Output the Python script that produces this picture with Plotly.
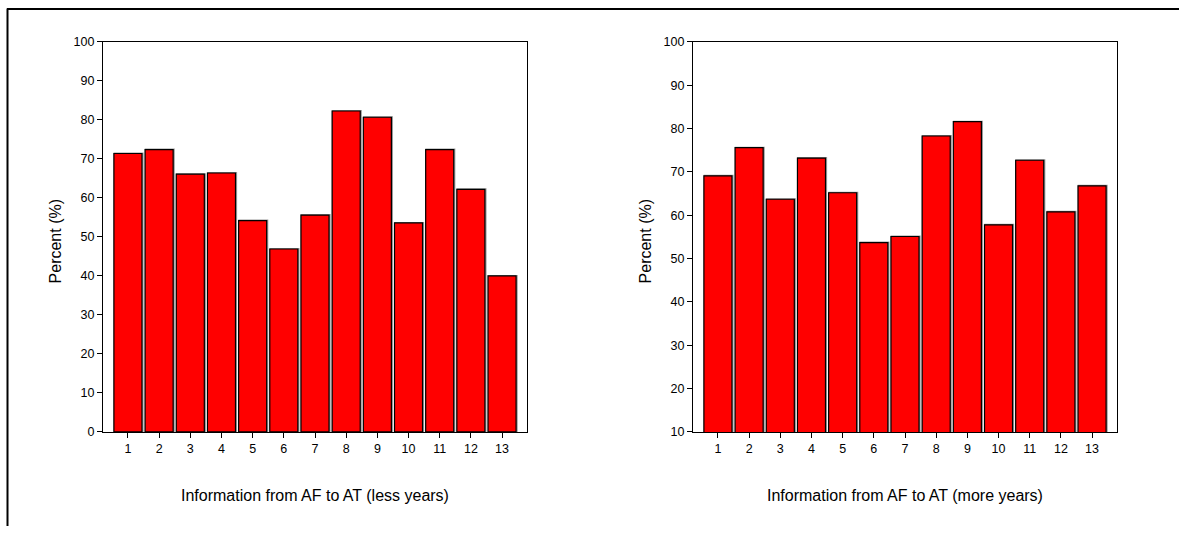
import plotly.graph_objects as go

categories = list(range(1, 14))
less_years = [71.4, 72.4, 66.1, 66.4, 54.2, 46.9, 55.6, 82.3, 80.7, 53.6, 72.4, 62.2, 40.0]
more_years = [69.1, 75.6, 63.7, 73.2, 65.2, 53.7, 55.1, 78.3, 81.6, 57.8, 72.7, 60.8, 66.8]
y_ticks_left = list(range(0, 101, 10))
y_ticks_right = list(range(10, 101, 10))
x_title_left = "Information from AF to AT (less years)"
x_title_right = "Information from AF to AT (more years)"
y_title = "Percent (%)"

W, H = 1179, 533
FONT = "Liberation Sans, Arial, sans-serif"

fig = go.Figure()

def add_bars(values, xa, ya):
    # subtle grey shadow behind each bar
    fig.add_trace(go.Bar(x=categories, y=values, xaxis=xa, yaxis=ya,
                         width=0.9, offset=-0.43,
                         marker=dict(color="#9a9a9a", line=dict(color="#9a9a9a", width=2)),
                         hoverinfo="skip", showlegend=False))
    fig.add_trace(go.Bar(x=categories, y=values, xaxis=xa, yaxis=ya,
                         width=0.9, offset=-0.45,
                         marker=dict(color="#ff0000", line=dict(color="#000000", width=1.2)),
                         showlegend=False))

add_bars(less_years, "x", "y")
add_bars(more_years, "x2", "y2")

px = lambda v: v / W
# vertical placement (compensating the observed render mapping)
py = lambda v: 1 - ((v - 5.5) / 0.974) / H

axis_common = dict(showline=True, linecolor="black", linewidth=1.3, mirror=True,
                   ticks="outside", ticklen=5, tickcolor="black", tickwidth=1,
                   showgrid=False, zeroline=False,
                   tickfont=dict(family=FONT, size=12.5, color="black"))

def title_ann(text, x, y, angle=0):
    return dict(text=text, x=px(x), y=py(y), xref="paper", yref="paper",
                xanchor="center", yanchor="middle", textangle=angle, showarrow=False,
                font=dict(family=FONT, size=16, color="black"))

fig.update_layout(
    width=W, height=H, autosize=False,
    margin=dict(l=0, r=0, t=0, b=0),
    paper_bgcolor="white", plot_bgcolor="white",
    barmode="overlay",
    xaxis=dict(domain=[px(103), px(527)], range=[0.2, 13.8],
               tickmode="array", tickvals=categories, ticktext=[str(c) for c in categories],
               **axis_common),
    yaxis=dict(domain=[py(430.5), py(40.5)], range=[0, 100],
               tickmode="array", tickvals=y_ticks_left, **axis_common),
    xaxis2=dict(domain=[px(693), px(1117)], range=[0.2, 13.8], anchor="y2",
                tickmode="array", tickvals=categories, ticktext=[str(c) for c in categories],
                **axis_common),
    yaxis2=dict(domain=[py(430.5), py(40.5)], range=[10, 100], anchor="x2",
                tickmode="array", tickvals=y_ticks_right, **axis_common),
    annotations=[
        title_ann(y_title, 55, 240, -90),
        title_ann(y_title, 645, 240, -90),
        title_ann(x_title_left, 315, 494),
        title_ann(x_title_right, 905, 494),
    ],
    shapes=[
        dict(type="line", xref="paper", yref="paper", x0=px(7), x1=1, y0=py(7.5), y1=py(7.5),
             line=dict(color="black", width=2)),
        dict(type="line", xref="paper", yref="paper", x0=px(7.5), x1=px(7.5), y0=py(7), y1=0,
             line=dict(color="black", width=2)),
    ],
)

fig.write_html("out.html",
               config={"responsive": False, "displayModeBar": False},
               post_script="document.body.style.margin='0';document.body.style.overflow='hidden';")
